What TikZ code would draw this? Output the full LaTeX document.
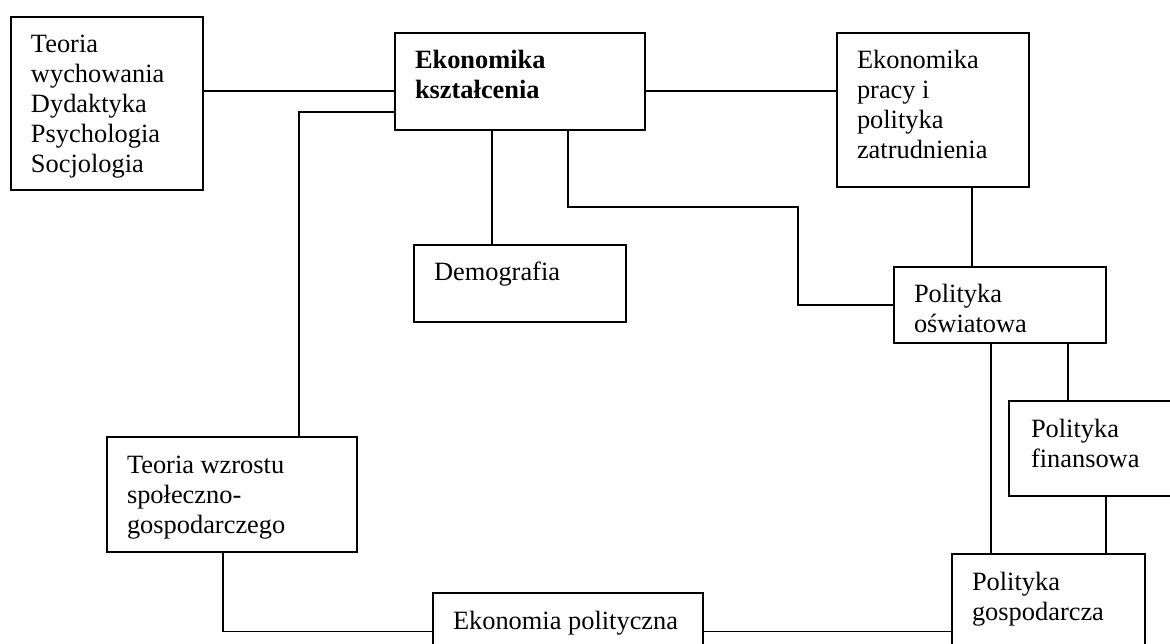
\documentclass[tikz,border=0pt]{standalone}
\usepackage{fontspec}
\setmainfont{Liberation Serif}
\usepackage{tikz}

\newcommand{\boxtext}[3]{\parbox[c][#2][t]{#1}{\raggedright\leftskip=20pt\rule{0pt}{36pt}#3}}

\begin{document}
\begin{tikzpicture}[x=1pt, y=-1pt, line width=1.1pt,
  every node/.style={draw, anchor=north west, inner sep=0pt, outer sep=0pt, font=\fontsize{26.4}{30}\selectfont}]
\useasboundingbox (0,0) rectangle (1170,644);

\node (ped) at (11,17) {\boxtext{192pt}{173pt}{Teoria\\wychowania\\Dydaktyka\\Psychologia\\Socjologia}};
\node (ek) at (395,33) {\boxtext{250pt}{97pt}{\textbf{Ekonomika}\\\textbf{kształcenia}}};
\node (prac) at (837,33) {\boxtext{192pt}{154pt}{Ekonomika\\pracy i\\polityka\\zatrudnienia}};
\node (demo) at (414,245) {\boxtext{212pt}{77pt}{Demografia}};
\node (osw) at (894,267) {\boxtext{212pt}{76pt}{Polityka\\oświatowa}};
\node (fin) at (1009,401) {\boxtext{200pt}{95pt}{\hspace*{2pt}Polityka\\\hspace*{2pt}finansowa}};
\node (wzr) at (107,437) {\boxtext{250pt}{115pt}{Teoria wzrostu\\społeczno-\\gospodarczego}};
\node (pol) at (433,593) {\boxtext{270pt}{77pt}{Ekonomia polityczna}};
\node (gosp) at (952,554) {\boxtext{193pt}{96pt}{Polityka\\gospodarcza}};

\draw (ped.east |- 0,91) -- (ek.west |- 0,91);
\draw (ek.east |- 0,91) -- (prac.west |- 0,91);
\draw (ek.west |- 0,112) -| (wzr.north -| 299,0);
\draw (ek.south -| 492,0) -- (demo.north -| 492,0);
\draw (ek.south -| 568,0) |- (798,207) |- (osw.west);
\draw (prac.south -| 972,0) -- (osw.north -| 972,0);
\draw (osw.south -| 991,0) -- (gosp.north -| 991,0);
\draw (osw.south -| 1068,0) -- (fin.north -| 1068,0);
\draw (fin.south -| 1106,0) -- (gosp.north -| 1106,0);
\draw (wzr.south -| 223,0) |- (pol.west);
\draw (pol.east) -- (gosp.west |- pol.east);
\end{tikzpicture}
\end{document}
